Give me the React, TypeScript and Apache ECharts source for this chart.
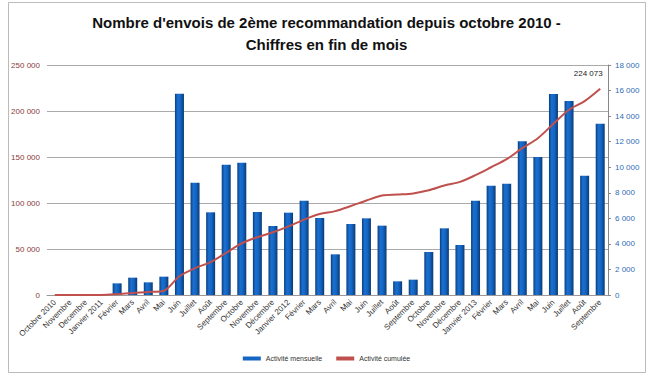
import React, { useEffect, useRef } from "react";
import * as echarts from "echarts";

const categories = [
  "Octobre 2010", "Novembre", "Decembre", "Janvier 2011", "Février", "Mars", "Avril", "Mai",
  "Juin", "Juillet", "Août", "Septembre", "Octobre", "Novembre", "Décembre", "Janvier 2012",
  "Février", "Mars", "Avril", "Mai", "Juin", "Juillet", "Août", "Septembre", "Octobre",
  "Novembre", "Décembre", "Janvier 2013", "Février", "Mars", "Avril", "Mai", "Juin",
  "Juillet", "Août", "Septembre",
];

const mensuelle = [
  0, 0, 0, 0, 911, 1357, 991, 1435, 15750, 8790, 6470, 10200, 10350, 6496, 5400, 6443,
  7383, 6026, 3183, 5557, 6000, 5427, 1070, 1200, 3366, 5218, 3913, 7383, 8557, 8714,
  12027, 10800, 15732, 15184, 9340, 13400,
];

const cumulee = [
  0, 0, 0, 0, 911, 2268, 3259, 4694, 20444, 29234, 35704, 45904, 56254, 62750, 68150,
  74593, 81976, 88002, 91185, 96742, 102742, 108169, 109239, 110439, 113805, 119023,
  122936, 130319, 138876, 147590, 159617, 170417, 186149, 201333, 210673, 224073,
];

const leftTicks = { min: 0, max: 250000, interval: 50000 };
const rightTicks = { min: 0, max: 18000, interval: 2000 };

const titleText = "Nombre d'envois de 2ème recommandation depuis octobre 2010 -\nChiffres en fin de mois";

const fmt = (v: number) => String(Math.round(v)).replace(/\B(?=(\d{3})+(?!\d))/g, " ");

export default function App() {
  const ref = useRef<HTMLDivElement>(null);
  useEffect(() => {
    if (!ref.current) return;
    const chart = echarts.init(ref.current, undefined, { renderer: "svg" });
    const font = "Liberation Sans, Arial, sans-serif";
    const barColor = new echarts.graphic.LinearGradient(0, 0, 1, 0, [
      { offset: 0, color: "#0b3f7e" },
      { offset: 0.3, color: "#1a6fd0" },
      { offset: 0.6, color: "#1466c4" },
      { offset: 1, color: "#0a3a75" },
    ]);
    const lastIdx = cumulee.length - 1;
    chart.setOption({
      animation: false,
      textStyle: { fontFamily: font },
      title: {
        text: titleText,
        left: "center",
        top: 6,
        textStyle: { fontSize: 15, fontWeight: "bold", color: "#111", lineHeight: 22, fontFamily: font },
      },
      graphic: [
        {
          type: "rect",
          shape: { x: 8.5, y: 2.5, width: 637, height: 370 },
          style: { fill: "none", stroke: "#bbbbbb", lineWidth: 1 },
          silent: true,
        },
      ],
      legend: {
        bottom: 12,
        left: "center",
        itemGap: 14,
        itemWidth: 18,
        itemHeight: 4,
        textStyle: { fontSize: 7, color: "#333", fontFamily: font },
        data: [
          { name: "Activité mensuelle", icon: "rect", itemStyle: { color: "#1466c4" } },
          { name: "Activité cumulée", icon: "rect", itemStyle: { color: "#c0504d" } },
        ],
      },
      grid: { left: 47, right: 45, top: 65, bottom: 84 },
      xAxis: {
        type: "category",
        data: categories,
        boundaryGap: true,
        axisLine: { show: true, lineStyle: { color: "#999" } },
        axisTick: { show: false },
        axisLabel: { rotate: 45, interval: 0, fontSize: 8, color: "#333", margin: 6, fontFamily: font },
      },
      yAxis: [
        {
          type: "value",
          position: "left",
          ...leftTicks,
          axisLine: { show: false },
          axisTick: { show: false },
          splitLine: { show: true, lineStyle: { color: "#aaaaaa", width: 1 } },
          axisLabel: { fontSize: 8, color: "#8b3a3a", formatter: fmt, margin: 7, fontFamily: font },
        },
        {
          type: "value",
          position: "right",
          ...rightTicks,
          axisLine: { show: true, lineStyle: { color: "#888" } },
          axisTick: { show: true, length: 3, lineStyle: { color: "#888" } },
          splitLine: { show: false },
          axisLabel: { fontSize: 8, color: "#2f6db5", formatter: fmt, margin: 7, fontFamily: font },
        },
      ],
      series: [
        {
          name: "Activité mensuelle",
          type: "bar",
          yAxisIndex: 1,
          data: mensuelle,
          barWidth: 9,
          itemStyle: { color: barColor },
        },
        {
          name: "Activité cumulée",
          type: "line",
          yAxisIndex: 0,
          data: cumulee,
          smooth: 0.3,
          symbol: "none",
          lineStyle: { color: "#c0504d", width: 2 },
          itemStyle: { color: "#c0504d" },
          z: 5,
          markPoint: {
            symbol: "circle",
            symbolSize: 1,
            itemStyle: { color: "rgba(0,0,0,0)" },
            label: {
              show: true,
              position: "top",
              offset: [-12, -6],
              formatter: (p: any) => fmt(p.value),
              color: "#222",
              fontSize: 8,
              fontFamily: font,
            },
            data: [{ coord: [lastIdx, cumulee[lastIdx]], value: cumulee[lastIdx] }],
          },
        },
      ],
    });
    return () => chart.dispose();
  }, []);
  return (
    <div
      ref={ref}
      style={{ position: "absolute", left: 0, top: 0, width: 653, height: 379, background: "#fff" }}
    />
  );
}
